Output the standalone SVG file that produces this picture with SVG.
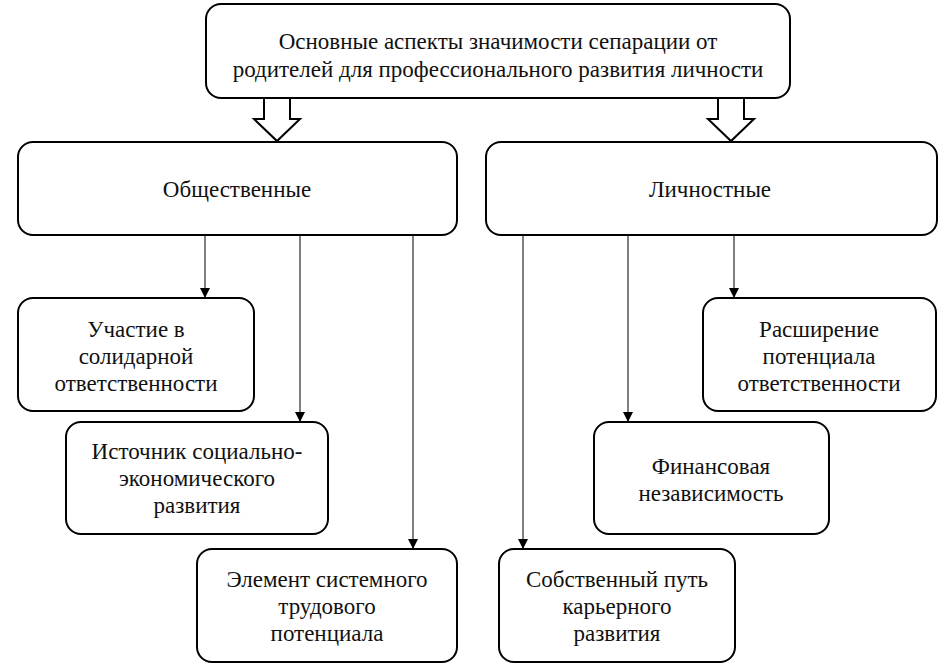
<svg xmlns="http://www.w3.org/2000/svg" width="949" height="668" viewBox="0 0 949 668">
<style>
.box{fill:#fff;stroke:#000;stroke-width:2}
.t{font-family:'Liberation Serif','Times New Roman',serif;font-size:23px;fill:#111;text-anchor:middle}
.ln{stroke:#000;stroke-width:1;fill:none}
.hol{fill:#fff;stroke:#000;stroke-width:2;stroke-linejoin:miter}
</style>
<defs>
<marker id="ah" viewBox="0 0 10 10" refX="10" refY="5" markerWidth="10" markerHeight="10" markerUnits="userSpaceOnUse" orient="auto">
<path d="M0,0 L10,5 L0,10 Z" fill="#000"/>
</marker>
</defs>
<rect width="949" height="668" fill="#fff"/>
<g id="connectors">
<path class="hol" d="M264,98 V119 H254 L277,141 L300,119 H290 V98"/>
<path class="hol" d="M718,98 V119 H708 L731,141 L754,119 H744 V98"/>
<line class="ln" x1="205" y1="235" x2="205" y2="298" marker-end="url(#ah)"/>
<line class="ln" x1="300" y1="235" x2="300" y2="422" marker-end="url(#ah)"/>
<line class="ln" x1="413" y1="235" x2="413" y2="549" marker-end="url(#ah)"/>
<line class="ln" x1="734" y1="235" x2="734" y2="298" marker-end="url(#ah)"/>
<line class="ln" x1="628" y1="235" x2="628" y2="422" marker-end="url(#ah)"/>
<line class="ln" x1="523" y1="235" x2="523" y2="549" marker-end="url(#ah)"/>
</g>
<g id="root">
<rect class="box" x="206" y="4" width="584" height="94" rx="15"/>
<text class="t" x="498" y="49">Основные аспекты значимости сепарации от</text>
<text class="t" x="498" y="77">родителей для профессионального развития личности</text>
</g>
<g id="social">
<rect class="box" x="18" y="142" width="439" height="93" rx="15"/>
<text class="t" x="237" y="197">Общественные</text>
</g>
<g id="personal">
<rect class="box" x="486" y="142" width="451" height="93" rx="15"/>
<text class="t" x="710" y="197">Личностные</text>
</g>
<g id="n1">
<rect class="box" x="18" y="298" width="236" height="113" rx="15"/>
<text class="t" x="136" y="337">Участие в</text>
<text class="t" x="136" y="364">солидарной</text>
<text class="t" x="136" y="391">ответственности</text>
</g>
<g id="n2">
<rect class="box" x="66" y="422" width="262" height="112" rx="15"/>
<text class="t" x="197" y="459">Источник социально-</text>
<text class="t" x="197" y="486">экономического</text>
<text class="t" x="197" y="513">развития</text>
</g>
<g id="n3">
<rect class="box" x="197" y="549" width="260" height="113" rx="15"/>
<text class="t" x="327" y="587">Элемент системного</text>
<text class="t" x="327" y="614">трудового</text>
<text class="t" x="327" y="641">потенциала</text>
</g>
<g id="n4">
<rect class="box" x="703" y="298" width="233" height="113" rx="15"/>
<text class="t" x="819" y="337">Расширение</text>
<text class="t" x="819" y="364">потенциала</text>
<text class="t" x="819" y="391">ответственности</text>
</g>
<g id="n5">
<rect class="box" x="594" y="422" width="235" height="112" rx="15"/>
<text class="t" x="711" y="474">Финансовая</text>
<text class="t" x="711" y="501">независимость</text>
</g>
<g id="n6">
<rect class="box" x="499" y="549" width="236" height="113" rx="15"/>
<text class="t" x="617" y="587">Собственный путь</text>
<text class="t" x="617" y="614">карьерного</text>
<text class="t" x="617" y="641">развития</text>
</g>
</svg>
